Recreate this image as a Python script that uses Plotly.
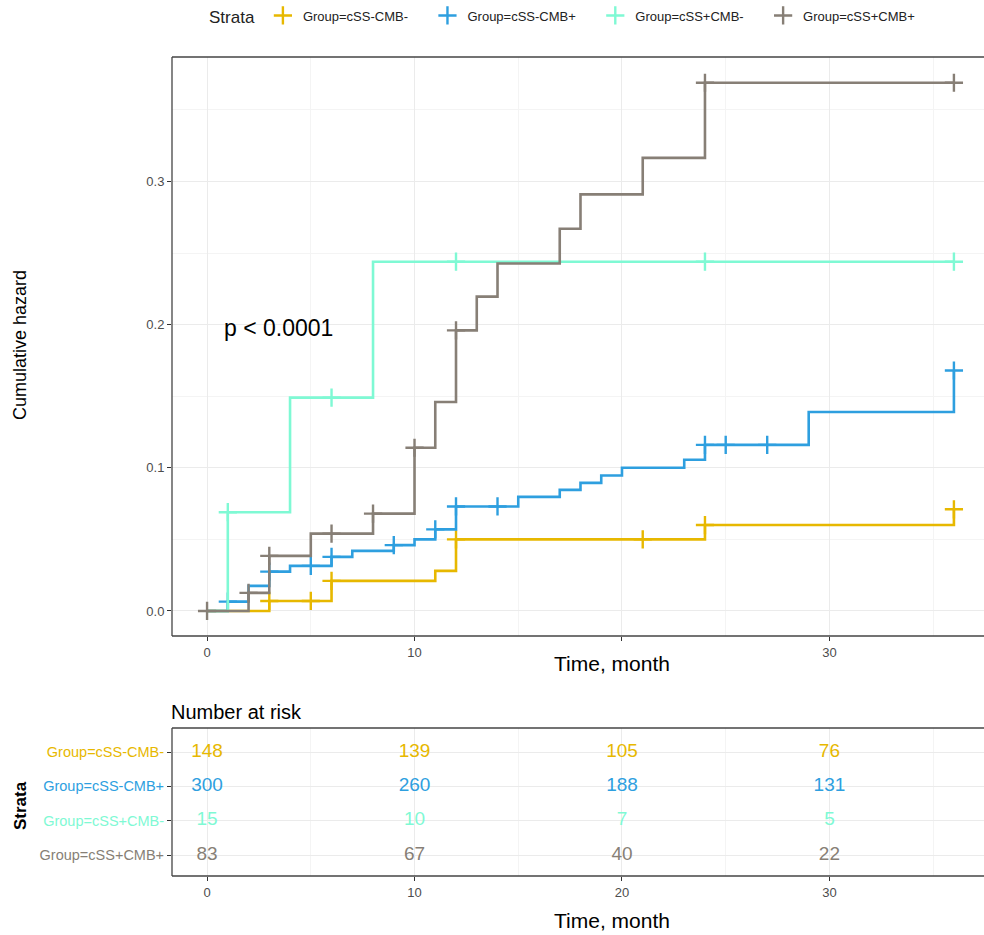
import plotly.graph_objects as go

groups = ["Group=cSS-CMB-", "Group=cSS-CMB+", "Group=cSS+CMB-", "Group=cSS+CMB+"]
colors = ["#E7B800", "#2E9FDF", "#7FF9D4", "#877F76"]

times_a = [0, 3, 6, 11, 12, 24, 36]
haz_a = [0, 0.007, 0.021, 0.028, 0.050, 0.060, 0.071]
cens_a = [3, 5, 6, 12, 21, 24, 36]

times_b = [0, 1, 2, 3, 4, 6, 7, 9, 10, 11, 12, 15, 17, 18, 19, 20, 23, 24, 29, 36]
haz_b = [0, 0.0065, 0.0175, 0.0275, 0.0315, 0.0378, 0.042, 0.046, 0.050, 0.057, 0.073,
         0.0797, 0.0846, 0.0895, 0.0946, 0.100, 0.1056, 0.116, 0.139, 0.168]
cens_b = [1, 3, 5, 6, 9, 11, 12, 14, 24, 25, 27, 36]

times_c = [0, 1, 4, 8]
haz_c = [0, 0.069, 0.149, 0.244]
cens_c = [1, 6, 12, 24, 36]

times_d = [0, 2, 3, 5, 8, 10, 11, 12, 13, 14, 17, 18, 21, 24]
haz_d = [0, 0.0126, 0.0385, 0.054, 0.068, 0.114, 0.146, 0.196, 0.2196, 0.2427, 0.267, 0.291, 0.3165, 0.369]
cens_d = [0, 2, 3, 6, 8, 10, 12, 24, 36]

risk_times = [0, 10, 20, 30]
risk_a = [148, 139, 105, 76]
risk_b = [300, 260, 188, 131]
risk_c = [15, 10, 7, 5]
risk_d = [83, 67, 40, 22]

x_ticks = [0, 10, 20, 30]
x_ticktext_main = ["0", "10", "", "30"]   # "20" is hidden behind the axis title in the reference
x_ticktext_table = ["0", "10", "20", "30"]
y_ticks = [0, 0.1, 0.2, 0.3]
y_ticktext = ["0.0", "0.1", "0.2", "0.3"]
end_time = 36
p_text = "p < 0.0001"

series = [
    (times_a, haz_a, cens_a, risk_a),
    (times_b, haz_b, cens_b, risk_b),
    (times_c, haz_c, cens_c, risk_c),
    (times_d, haz_d, cens_d, risk_d),
]


def value_at(ts, hs, t):
    v = hs[0]
    for ti, hi in zip(ts, hs):
        if ti <= t:
            v = hi
    return v


W, H = 984, 935
px = lambda p: p / W
py = lambda p: 1 - p / H

FONT = "Liberation Sans, Arial, sans-serif"
PAD = "&nbsp;" * 4

fig = go.Figure()

for g, col, (ts, hs, cs, rk) in zip(groups, colors, series):
    xs = list(ts) + ([end_time] if ts[-1] < end_time else [])
    ys = list(hs) + ([hs[-1]] if ts[-1] < end_time else [])
    fig.add_trace(go.Scatter(
        x=xs, y=ys, mode="lines", line=dict(color=col, width=2.6, shape="hv"),
        name=g, legendgroup=g, showlegend=False, hoverinfo="skip"))
    fig.add_trace(go.Scatter(
        x=cs, y=[value_at(ts, hs, c) for c in cs], mode="markers",
        marker=dict(symbol="cross-thin", size=13, line=dict(color=col, width=2.4), color=col),
        name=g + PAD, legendgroup=g, showlegend=True))

for i, (g, col, (ts, hs, cs, rk)) in enumerate(zip(groups, colors, series)):
    fig.add_trace(go.Scatter(
        x=risk_times, y=[4 - i] * len(risk_times), mode="text", text=[str(v) for v in rk],
        textfont=dict(color=col, size=19, family=FONT), textposition="middle center",
        xaxis="x2", yaxis="y2", showlegend=False, hoverinfo="skip"))

x_range = [-1.69, 37.45]
grid_major = "#EBEBEB"
grid_minor = "#F4F4F4"
tickfont = dict(size=13, color="#4D4D4D", family=FONT)

border = dict(color="#444444", width=1.3)
shapes = []
for top, bottom in [(57, 636), (728, 876)]:
    shapes += [
        dict(type="line", xref="paper", yref="paper", x0=px(172), x1=1.02, y0=py(top), y1=py(top),
             line=border, layer="above"),
        dict(type="line", xref="paper", yref="paper", x0=px(172), x1=1.02, y0=py(bottom), y1=py(bottom),
             line=border, layer="above"),
        dict(type="line", xref="paper", yref="paper", x0=px(172), x1=px(172), y0=py(bottom), y1=py(top),
             line=border, layer="above"),
    ]

fig.update_layout(
    width=W, height=H,
    margin=dict(l=0, r=0, t=0, b=0),
    plot_bgcolor="white", paper_bgcolor="white",
    font=dict(family=FONT),
    xaxis=dict(domain=[px(172), 1], range=x_range, tickvals=x_ticks, ticktext=x_ticktext_main,
               showgrid=True, gridcolor=grid_major, gridwidth=1.2, zeroline=False,
               minor=dict(dtick=5, tick0=0, showgrid=True, gridcolor=grid_minor, ticks=""),
               ticks="outside", ticklen=4, tickcolor="#333333", tickfont=tickfont,
               anchor="y", showline=False),
    yaxis=dict(domain=[py(636), py(57)], range=[-0.0175, 0.387], tickvals=y_ticks,
               ticktext=y_ticktext, showgrid=True, gridcolor=grid_major, gridwidth=1.2,
               zeroline=False,
               minor=dict(dtick=0.05, tick0=0, showgrid=True, gridcolor=grid_minor, ticks=""),
               ticks="outside", ticklen=4, tickcolor="#333333", tickfont=tickfont,
               anchor="x"),
    xaxis2=dict(domain=[px(172), 1], range=x_range, tickvals=x_ticks, ticktext=x_ticktext_table,
                showgrid=True, gridcolor=grid_major, gridwidth=1.2, zeroline=False,
                minor=dict(dtick=5, tick0=0, showgrid=True, gridcolor=grid_minor, ticks=""),
                ticks="outside", ticklen=4, tickcolor="#333333", tickfont=tickfont,
                anchor="y2"),
    yaxis2=dict(domain=[py(876), py(728)], range=[0.39, 4.70], tickvals=[4, 3, 2, 1],
                ticktext=[f'<span style="color:{c}">{g}</span>' for g, c in zip(groups, colors)],
                showgrid=True, gridcolor=grid_major, gridwidth=1.2, zeroline=False,
                ticks="outside", ticklen=4, tickcolor="#333333",
                tickfont=dict(size=14.5, family=FONT), anchor="x2"),
    legend=dict(orientation="h", x=px(207), xanchor="left", y=py(17), yanchor="middle",
                title=dict(text="Strata", font=dict(size=17, color="#222222", family=FONT)),
                font=dict(size=13, color="#222222", family=FONT),
                itemwidth=30, tracegroupgap=0, bgcolor="rgba(0,0,0,0)"),
    shapes=shapes,
    annotations=[
        dict(text=p_text, x=0.7, y=0.198, xref="x", yref="y", xanchor="left", yanchor="middle",
             showarrow=False, font=dict(size=23, color="black", family=FONT)),
        dict(text="Time, month", x=px(612), y=py(663), xref="paper", yref="paper",
             xanchor="center", yanchor="middle", bgcolor="white",
             showarrow=False, font=dict(size=21, color="black", family=FONT)),
        dict(text="Cumulative hazard", x=px(20), y=py(345), xref="paper", yref="paper",
             xanchor="center", yanchor="middle",
             textangle=-90, showarrow=False, font=dict(size=18, color="black", family=FONT)),
        dict(text="Number at risk", x=px(169), y=py(712), xref="paper", yref="paper",
             xanchor="left", yanchor="middle",
             showarrow=False, font=dict(size=20, color="black", family=FONT)),
        dict(text="<b>Strata</b>", x=px(20), y=py(806), xref="paper", yref="paper",
             xanchor="center", yanchor="middle",
             textangle=-90, showarrow=False, font=dict(size=17, color="black", family=FONT)),
        dict(text="Time, month", x=px(612), y=py(920), xref="paper", yref="paper",
             xanchor="center", yanchor="middle",
             showarrow=False, font=dict(size=21, color="black", family=FONT)),
    ],
)

fig.write_html("out.html", config={"displayModeBar": False},
               post_script="document.body.style.margin='0';document.body.style.overflow='hidden';")
